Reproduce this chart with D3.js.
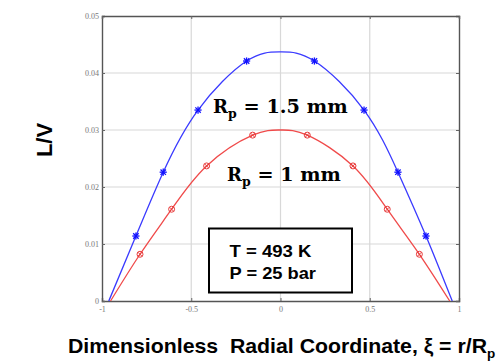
<!DOCTYPE html>
<html><head><meta charset="utf-8">
<script src="https://cdn.jsdelivr.net/npm/d3@7"></script>
<style>body{margin:0;background:#fff;}svg{display:block;}</style>
</head><body>
<script>
// Data
const blueLineX = [-0.962, -0.81, -0.657, -0.462, -0.19, 0, 0.19, 0.468, 0.658, 0.815, 0.962];
const blueLineY = [0, 0.0114, 0.0226, 0.0335, 0.0421, 0.0437, 0.0421, 0.0335, 0.0226, 0.0114, 0];
const blueMarkX = [-0.81, -0.657, -0.462, -0.19, 0.19, 0.468, 0.658, 0.815];
const blueMarkY = [0.0114, 0.0226, 0.0335, 0.0421, 0.0421, 0.0335, 0.0226, 0.0114];
const redLineX = [-0.952, -0.787, -0.61, -0.414, -0.156, 0, 0.15, 0.406, 0.598, 0.778, 0.948];
const redLineY = [0, 0.0082, 0.0161, 0.0237, 0.0291, 0.0300, 0.0291, 0.0237, 0.0161, 0.0082, 0];
const redMarkX = [-0.787, -0.61, -0.414, -0.156, 0.15, 0.406, 0.598, 0.778];
const redMarkY = [0.0082, 0.0161, 0.0237, 0.0291, 0.0291, 0.0237, 0.0161, 0.0082];
const xTicks = [-1, -0.5, 0, 0.5, 1];
const xTickLabels = ["-1", "-0.5", "0", "0.5", "1"];
const yTicks = [0, 0.01, 0.02, 0.03, 0.04, 0.05];
const yTickLabels = ["0", "0.01", "0.02", "0.03", "0.04", "0.05"];

const W = 500, H = 361;
const m = {left: 102, right: 41, top: 16, bottom: 60};
const svg = d3.select("body").append("svg").attr("width", W).attr("height", H);
const x = d3.scaleLinear().domain([-1, 1]).range([m.left, W - m.right]);
const y = d3.scaleLinear().domain([0, 0.05]).range([H - m.bottom, m.top]);

// grid
const g = svg.append("g");
g.selectAll("line.vx").data(xTicks.slice(1, -1)).join("line")
  .attr("x1", d => x(d)).attr("x2", d => x(d)).attr("y1", y(0)).attr("y2", y(0.05))
  .attr("stroke", "#d8d8d8").attr("stroke-width", 1.2);
g.selectAll("line.hy").data(yTicks.slice(1, -1)).join("line")
  .attr("x1", x(-1)).attr("x2", x(1)).attr("y1", d => y(d)).attr("y2", d => y(d))
  .attr("stroke", "#d8d8d8").attr("stroke-width", 1.2);

// axes
const xAxis = svg.append("g").attr("transform", `translate(0,${y(0)})`)
  .call(d3.axisBottom(x).tickValues(xTicks).tickFormat((d, i) => xTickLabels[i]).tickSize(-3).tickPadding(5));
const yAxis = svg.append("g").attr("transform", `translate(${x(-1)},0)`)
  .call(d3.axisLeft(y).tickValues(yTicks).tickFormat((d, i) => yTickLabels[i]).tickSize(-3).tickPadding(3));
const yAxisR = svg.append("g").attr("transform", `translate(${x(1)},0)`)
  .call(d3.axisRight(y).tickValues(yTicks).tickFormat("").tickSize(-3));
const xAxisT = svg.append("g").attr("transform", `translate(0,${y(0.05)})`)
  .call(d3.axisTop(x).tickValues(xTicks).tickFormat("").tickSize(-3));
[xAxis, yAxis, yAxisR, xAxisT].forEach(a => {
  a.select(".domain").attr("stroke", "#555").attr("stroke-width", 1.4);
  a.selectAll(".tick line").attr("stroke", "#666");
  a.selectAll("text").attr("fill", "#777").style("font-family", "Liberation Serif, serif").style("font-size", "8px");
});

// lines
const line = d3.line().x(d => x(d[0])).y(d => y(d[1])).curve(d3.curveNatural);
svg.append("path").datum(blueLineX.map((v, i) => [v, blueLineY[i]]))
  .attr("d", line).attr("fill", "none").attr("stroke", "#3a3aff").attr("stroke-width", 1.3);
svg.append("path").datum(redLineX.map((v, i) => [v, redLineY[i]]))
  .attr("d", line).attr("fill", "none").attr("stroke", "#f04a4a").attr("stroke-width", 1.3);

// blue star markers
const star = svg.append("g").selectAll("g").data(blueMarkX.map((v, i) => [v, blueMarkY[i]])).join("g")
  .attr("transform", d => `translate(${x(d[0])},${y(d[1])})`)
  .attr("stroke", "#1010ff").attr("stroke-width", 1.3);
const s = 3.6;
[[0, -s, 0, s], [-s, 0, s, 0], [-s * 0.75, -s * 0.75, s * 0.75, s * 0.75], [-s * 0.75, s * 0.75, s * 0.75, -s * 0.75]].forEach(l => {
  star.append("line").attr("x1", l[0]).attr("y1", l[1]).attr("x2", l[2]).attr("y2", l[3]);
});

// red circle markers
const circ = svg.append("g").selectAll("g").data(redMarkX.map((v, i) => [v, redMarkY[i]])).join("g")
  .attr("transform", d => `translate(${x(d[0])},${y(d[1])})`)
  .attr("stroke", "#e83c3c").attr("stroke-width", 1).attr("fill", "none");
circ.append("circle").attr("r", 3);
circ.append("line").attr("x1", -2).attr("y1", -2).attr("x2", 2).attr("y2", 2);
circ.append("line").attr("x1", -2).attr("y1", 2).attr("x2", 2).attr("y2", -2);

// annotations
function rpLabel(xp, yp, rest, len) {
  const t = svg.append("text").attr("x", xp).attr("y", yp)
    .style("font-family", "DejaVu Serif, serif").style("font-weight", "bold").style("font-size", "18px").attr("fill", "#000");
  t.append("tspan").text("R");
  t.append("tspan").text("p").attr("dy", 5).style("font-size", "12.5px");
  t.append("tspan").text(rest).attr("dy", -5).attr("textLength", len).attr("lengthAdjust", "spacingAndGlyphs");
}
rpLabel(213, 113, " = 1.5 mm", 111);
rpLabel(227, 181, " = 1 mm", 90);

svg.append("rect").attr("x", 209).attr("y", 228.5).attr("width", 143).attr("height", 64)
  .attr("fill", "#fff").attr("stroke", "#000").attr("stroke-width", 2);
svg.append("text").attr("x", 229.5).attr("y", 257).text("T = 493 K")
  .attr("textLength", 82).attr("lengthAdjust", "spacingAndGlyphs")
  .style("font-family", "Liberation Sans, Arial, sans-serif").style("font-weight", "bold").style("font-size", "16.5px");
svg.append("text").attr("x", 229.5).attr("y", 278.5).text("P = 25 bar")
  .attr("textLength", 86.5).attr("lengthAdjust", "spacingAndGlyphs")
  .style("font-family", "Liberation Sans, Arial, sans-serif").style("font-weight", "bold").style("font-size", "16.5px");

// axis titles
const xt = svg.append("text").attr("x", 68).attr("y", 353)
  .style("font-family", "Liberation Sans, Arial, sans-serif").style("font-weight", "bold").style("font-size", "19.7px");
xt.append("tspan").text("Dimensionless\u00a0\u00a0Radial Coordinate, \u03be = r/R")
  .attr("textLength", 419).attr("lengthAdjust", "spacingAndGlyphs");
xt.append("tspan").text("p").attr("dy", 5).style("font-size", "13.5px");

svg.append("text").attr("transform", "translate(51.5,140) rotate(-90)").attr("text-anchor", "middle")
  .text("L/V").style("font-family", "Liberation Sans, Arial, sans-serif").style("font-weight", "bold").style("font-size", "22px");
</script>
</body></html>
